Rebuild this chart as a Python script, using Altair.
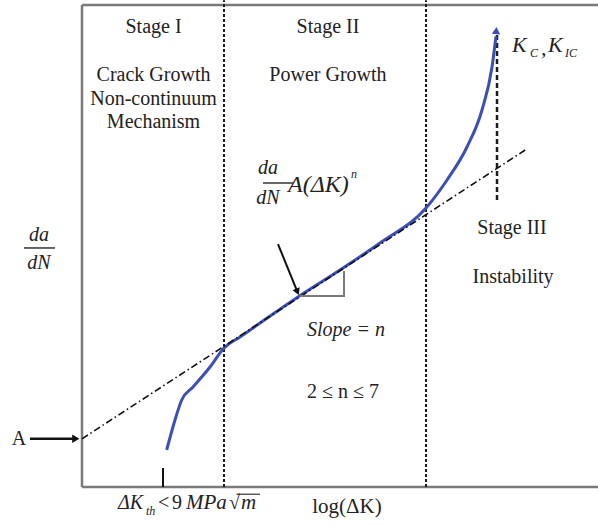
import altair as alt
import pandas as pd

# ---- data (schematic units: x = log(dK), y = log(da/dN), both 0..10) ----
curve_x = [1.641, 1.802, 1.932, 2.151, 2.481, 2.752, 3.062, 3.450, 4.186, 5.000, 5.775, 6.667, 7.074, 7.461, 7.752, 7.946, 8.023]
curve_y = [0.768, 1.390, 1.805, 2.075, 2.490, 2.884, 3.112, 3.402, 3.942, 4.502, 5.062, 5.788, 6.369, 7.054, 7.822, 8.714, 9.350]

trend_x = [0.0, 8.618]
trend_y = [1.0, 7.012]

stage_bound_x = [2.752, 6.667]
stage_bound_y0 = [0.0, 0.0]
stage_bound_y1 = [10.1, 10.1]

kc_x = [8.043]
kc_y0 = [5.954]
kc_y1 = [9.40]

tri_x = [4.225, 5.078, 5.078]
tri_y = [3.963, 3.963, 4.480]

ptr_x = [3.798, 4.175]
ptr_y = [5.041, 4.050]

a_arrow_x = [-1.008, -0.12]
a_arrow_y = [1.0, 1.0]

tick_x = [1.57]
tick_y0 = [0.0]
tick_y1 = [0.394]

frame_x = [0.0, 0.0, 0.0]
frame_x2 = [0.0, 10.0, 10.0]
frame_y = [0.0, 10.0, 0.0]
frame_y2 = [10.0, 10.0, 0.0]

frac_x = [-1.124, 3.508]
frac_x2 = [-0.523, 4.089]
frac_y = [4.959, 6.307]

sqrt_bar_x = [2.994]
sqrt_bar_x2 = [3.450]
sqrt_bar_y = [-0.150]

# text groups
center_text = ["Stage I", "Stage II", "Crack Growth", "Non-continuum", "Mechanism",
               "Power Growth", "Stage III", "Instability", "A"]
center_x = [1.386, 4.767, 1.386, 1.386, 1.386, 4.767, 8.333, 8.353, -1.221]
center_y = [9.544, 9.544, 8.548, 8.050, 7.573, 8.548, 5.373, 4.357, 1.0]

ital_center_text = ["da", "dN", "da", "dN"]
ital_center_x = [3.605, 3.605, -0.833, -0.833]
ital_center_y = [6.618, 5.996, 5.228, 4.647]

formula_text = ["A(ΔK)"]
formula_x = [3.992]
formula_y = [6.266]

ital_left_text = ["Slope = n"]
ital_left_x = [4.360]
ital_left_y = [3.257]

kc_text = ["K", ",", "K"]
kc_tx = [8.333, 8.895, 9.031]
kc_ty = [9.170, 9.100, 9.170]

th_text = ["ΔK"]
th_x = [0.698]
th_y = [-0.33]

unit_text = ["MPa", "m"]
unit_x = [2.016, 3.081]
unit_y = [-0.33, -0.33]

th_norm_text = ["<", "9", "√"]
th_norm_x = [1.473, 1.744, 2.849]
th_norm_y = [-0.33, -0.33, -0.33]

norm_left_text = ["2 ≤ n ≤ 7"]
norm_left_x = [4.360]
norm_left_y = [1.971]

sub_text = ["n", "C", "IC", "th"]
sub_x = [5.213, 8.682, 9.360, 1.240]
sub_y = [6.494, 9.010, 9.010, -0.498]

log_text = ["log(ΔK)"]
log_x = [5.136]
log_y = [-0.415]

FONT = "Liberation Serif"
XS = alt.Scale(domain=[0, 10])
YS = alt.Scale(domain=[0, 10])
INK = "#222222"


def X(f="x"):
    return alt.X(f"{f}:Q", scale=XS, axis=None)


def Y(f="y"):
    return alt.Y(f"{f}:Q", scale=YS, axis=None)


def df(**kw):
    return pd.DataFrame(kw)


def texts(t, x, y, size, italic=False, align="left"):
    kw = dict(font=FONT, fontSize=size, color=INK, align=align, baseline="middle")
    if italic:
        kw["fontStyle"] = "italic"
    return alt.Chart(df(t=t, x=x, y=y)).mark_text(**kw).encode(x=X(), y=Y(), text="t:N")


# frame
frame = alt.Chart(df(x=frame_x, x2=frame_x2, y=frame_y, y2=frame_y2)).mark_rule(
    color="#7a7a7a", strokeWidth=2.5
).encode(x=X(), x2="x2:Q", y=Y(), y2="y2:Q")

# stage boundaries
bounds = alt.Chart(df(x=stage_bound_x, y=stage_bound_y0, y2=stage_bound_y1)).mark_rule(
    color="#1a1a1a", strokeWidth=2, strokeDash=[3, 2]
).encode(x=X(), y=Y(), y2="y2:Q")

kc_line = alt.Chart(df(x=kc_x, y=kc_y0, y2=kc_y1)).mark_rule(
    color="#1a1a1a", strokeWidth=2.5, strokeDash=[5, 3]
).encode(x=X(), y=Y(), y2="y2:Q")

# blue curve
curve = alt.Chart(df(x=curve_x, y=curve_y, i=list(range(len(curve_x))))).mark_line(
    color="#3b4fb6", strokeWidth=3, interpolate="monotone"
).encode(x=X(), y=Y(), order="i:Q")

curve_head = alt.Chart(df(x=[curve_x[-1] + 0.005], y=[curve_y[-1] + 0.12])).mark_point(
    shape="triangle-up", filled=True, size=70, color="#3b4fb6", opacity=1, angle=4
).encode(x=X(), y=Y())

# dash-dot Paris line
trend = alt.Chart(df(x=trend_x, y=trend_y)).mark_line(
    color="#111111", strokeWidth=1.6, strokeDash=[7, 3, 1.5, 3]
).encode(x=X(), y=Y())

# slope triangle
tri = alt.Chart(df(x=tri_x, y=tri_y, i=[0, 1, 2])).mark_line(
    color="#7a7a7a", strokeWidth=2
).encode(x=X(), y=Y(), order="i:Q")

# pointer arrow
ptr = alt.Chart(df(x=ptr_x, y=ptr_y, i=[0, 1])).mark_line(
    color="#111111", strokeWidth=2
).encode(x=X(), y=Y(), order="i:Q")
ptr_head = alt.Chart(df(x=[ptr_x[-1]], y=[ptr_y[-1]])).mark_point(
    shape="triangle-up", filled=True, size=60, color="#111111", opacity=1, angle=157
).encode(x=X(), y=Y())

# A arrow
a_arrow = alt.Chart(df(x=a_arrow_x, y=a_arrow_y)).mark_line(
    color="#111111", strokeWidth=2.5
).encode(x=X(), y=Y())
a_head = alt.Chart(df(x=[a_arrow_x[-1]], y=[a_arrow_y[-1]])).mark_point(
    shape="triangle-up", filled=True, size=70, color="#111111", opacity=1, angle=90
).encode(x=X(), y=Y())

# threshold tick
tick = alt.Chart(df(x=tick_x, y=tick_y0, y2=tick_y1)).mark_rule(
    color="#111111", strokeWidth=2
).encode(x=X(), y=Y(), y2="y2:Q")

# fraction bars
fracs = alt.Chart(df(x=frac_x, x2=frac_x2, y=frac_y)).mark_rule(
    color="#333333", strokeWidth=1.5
).encode(x=X(), x2="x2:Q", y=Y())

sqrt_bar = alt.Chart(df(x=sqrt_bar_x, x2=sqrt_bar_x2, y=sqrt_bar_y)).mark_rule(
    color="#333333", strokeWidth=1.2
).encode(x=X(), x2="x2:Q", y=Y())

# texts
t_center = texts(center_text, center_x, center_y, 20, align="center")
t_ic = texts(ital_center_text, ital_center_x, ital_center_y, 20, italic=True, align="center")
t_formula = texts(formula_text, formula_x, formula_y, 24, italic=True)
t_slope = texts(ital_left_text, ital_left_x, ital_left_y, 20, italic=True)
t_kc = texts(kc_text, kc_tx, kc_ty, 22, italic=True)
t_th = texts(th_text, th_x, th_y, 20, italic=True)
t_unit = texts(unit_text, unit_x, unit_y, 21, italic=True)
t_thn = texts(th_norm_text, th_norm_x, th_norm_y, 20)
t_nl = texts(norm_left_text, norm_left_x, norm_left_y, 20)
t_sub = texts(sub_text, sub_x, sub_y, 12, italic=True)
t_log = texts(log_text, log_x, log_y, 21, align="center")

chart = alt.layer(
    frame, bounds, kc_line, curve, curve_head, trend, tri, ptr, ptr_head,
    a_arrow, a_head, tick, fracs, sqrt_bar,
    t_center, t_ic, t_formula, t_slope, t_kc, t_th, t_unit, t_thn, t_nl, t_sub, t_log
).properties(
    width=516, height=482,
    padding={"left": 82, "top": 5, "right": 0, "bottom": 39},
    autosize=alt.AutoSizeParams(type="none"),
    background="white",
).configure_view(stroke=None)

chart.save("out.html", embed_options={"renderer": "svg", "actions": False})
